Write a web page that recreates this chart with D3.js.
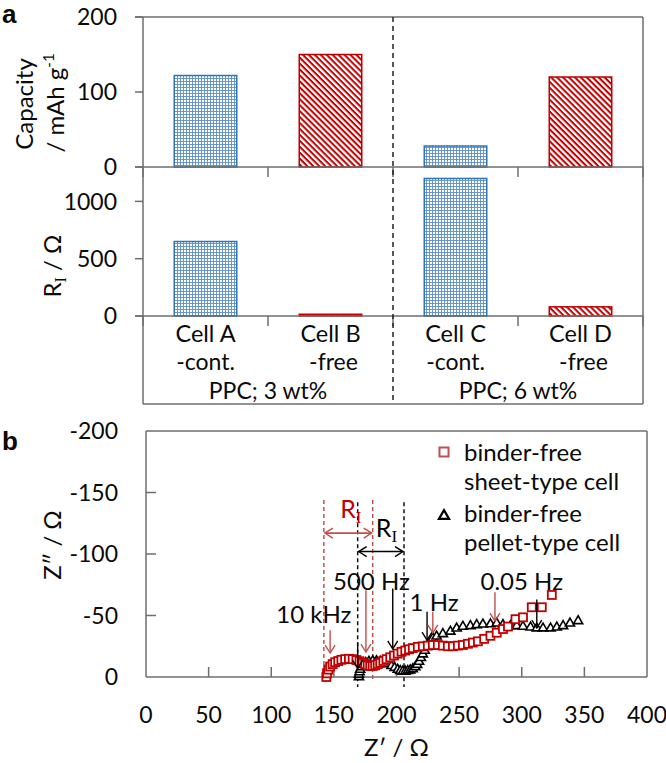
<!DOCTYPE html>
<html><head><meta charset="utf-8">
<script src="https://cdn.jsdelivr.net/npm/d3@7"></script>
<style>
html,body{margin:0;padding:0;background:#fff;}
svg{display:block;}
</style></head>
<body>
<script>
// ---------- DATA ----------
const cells = ["Cell A", "Cell B", "Cell C", "Cell D"];
const cellSub = ["-cont.", "-free", "-cont.", "-free"];
const binderType = ["cont", "free", "cont", "free"];
const groups = ["PPC; 3 wt%", "PPC; 6 wt%"];
const capacity = [122, 150, 28, 120];      // mAh g-1
const resistance = [650, 15, 1200, 80];    // RI / Ohm
const capTicks = [0, 100, 200];
const riTicks = [0, 500, 1000];

// Nyquist: binder-free sheet-type cell (red squares)
const sheetZre = [144,144.5,145.5,147,149,151,153.5,156,159,162,165,168,170.5,173,175,177,179,181,183,185,187,189.5,192,195,198,201,204,207,210,213,217,221,225,229,233,237,241,245,249,253,257,261,265,270,275,280,285,289,295,301,308,316,324];
const sheetZim = [0,-3,-6,-8.5,-10.5,-12,-13,-14,-14.5,-14.8,-14.5,-13.8,-12.8,-11.5,-10.5,-9.5,-9,-9,-9.5,-10.5,-11.5,-13,-14.5,-16,-17.5,-19,-20.5,-21.5,-22.5,-23.5,-24.5,-25,-25.5,-26,-26,-25.5,-25,-25,-25.5,-26,-27,-28,-29,-31,-33.5,-36,-39,-41,-47,-48.5,-56.7,-56.7,-66.7];
// Nyquist: binder-free pellet-type cell (black triangles)
const pelletZre = [170,170,170.5,171,172,173.5,175.5,178,181,184,187,190,193,196,198.5,201,203,205,207,209,211,213,215,216.5,218,219.5,221,222.5,224.5,226.5,229,232,237,243,248,253,259,264,269,275,280,285,291,296,301,307,312,317,323,328,333,338.5,345];
const pelletZim = [0,-2,-4,-6,-8,-10,-11.5,-12.5,-13,-13,-12.5,-11.5,-10.5,-9,-7.5,-6,-5,-4.5,-4.5,-5,-5.5,-6.5,-8,-10,-12.5,-15.5,-18.5,-21.5,-25,-28.5,-31.5,-33,-35,-37,-39.5,-41,-41.5,-42.3,-42.8,-43,-43.6,-42.3,-41.5,-41.5,-41,-40.4,-39.6,-39.6,-39.6,-40.4,-41.5,-43.6,-45.5];
const zreTicks = [0, 50, 100, 150, 200, 250, 300, 350, 400];
const zimTicks = [0, -50, -100, -150, -200];
const legendLabels = [["binder-free", "sheet-type cell"], ["binder-free", "pellet-type cell"]];
const freqLabels = ["10 kHz", "500 Hz", "1 Hz", "0.05 Hz"];

// ---------- SETUP ----------
const W = 666, H = 763;
const RED = "#c00000", RED2 = "#c0504d", BLUE = "#2e75b6", AX = "#6e6e6e";
const FS = 24, FT = 23;
const SERIF = "Liberation Serif, serif";
const svg = d3.select("body").append("svg").attr("width", W).attr("height", H)
  .attr("font-family", "Lato, 'Open Sans', sans-serif").attr("fill", "#0a0a0a");
const defs = svg.append("defs");

// patterns
const pg = defs.append("pattern").attr("id", "grid").attr("patternUnits", "userSpaceOnUse")
  .attr("width", 3).attr("height", 3);
pg.append("rect").attr("width", 3).attr("height", 3).attr("fill", "#fff");
pg.append("path").attr("d", "M0,0.5H3M0.5,0V3").attr("stroke", "#5b8fc8").attr("stroke-width", 0.9);
const ph = defs.append("pattern").attr("id", "hatch").attr("patternUnits", "userSpaceOnUse")
  .attr("width", 4.2).attr("height", 4.2).attr("patternTransform", "rotate(45)");
ph.append("rect").attr("width", 4.2).attr("height", 4.2).attr("fill", "#fff");
ph.append("rect").attr("x", 0).attr("y", 0).attr("width", 4.2).attr("height", 2).attr("fill", RED);

function mk(id, color) {
  const m = defs.append("marker").attr("id", id).attr("viewBox", "-10 -6 12 12")
    .attr("refX", 0).attr("refY", 0).attr("markerWidth", 12).attr("markerHeight", 12)
    .attr("markerUnits", "userSpaceOnUse").attr("orient", "auto-start-reverse");
  m.append("path").attr("d", "M-8,-5L0,0L-8,5").attr("fill", "none").attr("stroke", color).attr("stroke-width", 1.4);
}
mk("arrR", RED2); mk("arrK", "#000");

// ---------- PANEL a ----------
const x = d3.scaleBand().domain(cells).range([143, 643]).paddingInner(0.5).paddingOuter(0.25);
const step = x.step();
const yCap = d3.scaleLinear().domain([0, 200]).range([167, 17]);
const yRI = d3.scaleLinear().domain([0, 1300]).range([316, 167]);
const gA = svg.append("g");

function bars(scale, vals) {
  gA.selectAll(null).data(cells).enter().append("rect")
    .attr("x", d => x(d)).attr("width", x.bandwidth())
    .attr("y", (d, i) => scale(vals[i])).attr("height", (d, i) => scale(0) - scale(vals[i]))
    .attr("fill", (d, i) => binderType[i] === "cont" ? "url(#grid)" : "url(#hatch)")
    .attr("stroke", (d, i) => binderType[i] === "cont" ? BLUE : RED).attr("stroke-width", 1.5);
}
bars(yCap, capacity);
bars(yRI, resistance);

const line = (g, x1, y1, x2, y2, c, w, dash) => g.append("line").attr("x1", x1).attr("y1", y1).attr("x2", x2).attr("y2", y2)
  .attr("stroke", c || AX).attr("stroke-width", w || 1.5).attr("stroke-dasharray", dash || null);

const xL = x.range()[0], xR = x.range()[1];
// frame
line(gA, xL - 8, yCap(200), xR, yCap(200));
line(gA, xL, yCap(200), xL, 404);
line(gA, xR, yCap(200), xR, 404);
line(gA, xL - 8, yCap(0), xR, yCap(0));
line(gA, xL - 8, yRI(0), xR, yRI(0));
line(gA, xL, 404, xR, 404);
// y ticks
capTicks.forEach(t => {
  line(gA, xL - 8, yCap(t), xL, yCap(t));
  gA.append("text").attr("x", 117).attr("y", yCap(t)).attr("dy", "0.36em")
    .attr("text-anchor", "end").attr("font-size", FT).text(t);
});
riTicks.forEach(t => {
  line(gA, xL - 8, yRI(t), xL, yRI(t));
  gA.append("text").attr("x", 117).attr("y", yRI(t)).attr("dy", "0.36em")
    .attr("text-anchor", "end").attr("font-size", FT).text(t);
});
// category ticks
d3.range(5).forEach(k => {
  const xx = xL + k * step;
  line(gA, xx, yCap(0), xx, yCap(0) + 10);
  line(gA, xx, yRI(0), xx, yRI(0) + 10);
});
// separator dashed line
line(gA, xL + 2 * step, yCap(200), xL + 2 * step, 404, "#222", 1.5, "5,4");
// category labels
cells.forEach((c, i) => {
  const cx = x(c) + x.bandwidth() / 2;
  gA.append("text").attr("x", cx).attr("y", 342).attr("text-anchor", "middle").attr("font-size", 23.5).text(c);
  gA.append("text").attr("x", cx + (binderType[i] === "free" ? 3 : 0)).attr("y", 370).attr("text-anchor", "middle").attr("font-size", 23).text(cellSub[i]);
});
groups.forEach((g, j) => {
  gA.append("text").attr("x", xL + (2 * j + 1) * step).attr("y", 399).attr("text-anchor", "middle").attr("font-size", 23).text(g);
});
// axis titles
const t1 = gA.append("text").attr("transform", "translate(33,104) rotate(-90)").attr("text-anchor", "middle").attr("font-size", FS);
t1.text("Capacity");
const t2 = gA.append("text").attr("transform", "translate(64,103) rotate(-90)").attr("text-anchor", "middle").attr("font-size", FS);
t2.append("tspan").text("/ mAh g");
t2.append("tspan").attr("font-size", 15).attr("dy", -10).text("-1");
const t3 = gA.append("text").attr("transform", "translate(61,266) rotate(-90)").attr("text-anchor", "middle").attr("font-size", FS);
t3.append("tspan").text("R");
t3.append("tspan").attr("font-size", 16).attr("dy", 5).attr("font-family", SERIF).text("I");
t3.append("tspan").attr("dy", -5).text(" / Ω");
gA.append("text").attr("x", 2).attr("y", 23).attr("font-size", 26).attr("font-weight", "bold")
  .attr("font-family", "Liberation Sans, Arial").text("a");

// ---------- PANEL b ----------
const xz = d3.scaleLinear().domain([0, 400]).range([146, 647]);
const yz = d3.scaleLinear().domain([0, -200]).range([677, 431]);
const gB = svg.append("g");
line(gB, xz(0), yz(-200), xz(400), yz(-200));
line(gB, xz(0), yz(-200), xz(0), yz(0));
line(gB, xz(400), yz(-200), xz(400), yz(0));
line(gB, xz(0), yz(0), xz(400), yz(0));
zreTicks.forEach(t => {
  if (t > 0 && t < 400) line(gB, xz(t), yz(0), xz(t), yz(0) - 10);
  gB.append("text").attr("x", xz(t)).attr("y", 723).attr("text-anchor", "middle").attr("font-size", FT).text(t);
});
zimTicks.forEach(t => {
  if (t < 0 && t > -200) line(gB, xz(0), yz(t), xz(0) + 10, yz(t));
  gB.append("text").attr("x", 118).attr("y", yz(t)).attr("dy", "0.36em").attr("text-anchor", "end").attr("font-size", FT).text(t);
});
gB.append("text").attr("x", (xz(0) + xz(400)) / 2).attr("y", 756).attr("text-anchor", "middle").attr("font-size", FS).text("Z′ / Ω");
gB.append("text").attr("transform", "translate(61,545) rotate(-90)").attr("text-anchor", "middle").attr("font-size", FS).text("Z″ / Ω");
gB.append("text").attr("x", 2).attr("y", 450).attr("font-size", 26).attr("font-weight", "bold")
  .attr("font-family", "Liberation Sans, Arial").text("b");

// dashed R_I guide lines
[142, 181].forEach(v => line(gB, xz(v), yz(-144), xz(v), yz(0) + 2, RED2, 1.5, "4,3"));
[169, 206].forEach(v => line(gB, xz(v), yz(-142), xz(v), yz(0) + 10, "#111", 1.5, "4,3"));
// R_I double arrows
line(gB, xz(142) + 1, yz(-117), xz(181) - 1, yz(-117), RED2, 1.6).attr("marker-start", "url(#arrR)").attr("marker-end", "url(#arrR)");
line(gB, xz(169) + 1, yz(-102), xz(206) - 1, yz(-102), "#000", 1.6).attr("marker-start", "url(#arrK)").attr("marker-end", "url(#arrK)");
function rLabel(xv, yv, col) {
  const t = gB.append("text").attr("x", xz(xv)).attr("y", yz(yv)).attr("font-size", 25).attr("fill", col);
  t.append("tspan").text("R");
  t.append("tspan").attr("font-size", 17).attr("dy", 5).attr("font-family", SERIF).text("I");
}
rLabel(155, -129, RED);
rLabel(183.5, -114, "#000");

// scatter data
const sheet = sheetZre.map((v, i) => [v, sheetZim[i]]);
const pellet = pelletZre.map((v, i) => [v, pelletZim[i]]);
const tri = d3.symbol().type(d3.symbolTriangle).size(36);
gB.selectAll(null).data(pellet).enter().append("path")
  .attr("d", tri).attr("transform", d => `translate(${xz(d[0])},${yz(d[1])})`)
  .attr("fill", "#fff").attr("stroke", "#000").attr("stroke-width", 1.6);
gB.selectAll(null).data(sheet).enter().append("rect")
  .attr("x", d => xz(d[0]) - 4).attr("y", d => yz(d[1]) - 4).attr("width", 8).attr("height", 8)
  .attr("fill", "#fff").attr("stroke", RED).attr("stroke-width", 1.8);

// frequency labels and arrows
const fx = [134, 180, 230, 300], fy = [-44, -71, -54, -71];
freqLabels.forEach((f, i) => gB.append("text").attr("x", xz(fx[i])).attr("y", yz(fy[i])).attr("text-anchor", "middle").attr("font-size", FS).text(f));
const arrows = [
  [147, -38, -19.5, RED2, "arrR"], [169, -28, -7, "#000", "arrK"],
  [175.6, -70.5, -20.3, RED2, "arrR"], [197, -72, -22.8, "#000", "arrK"],
  [224.4, -53, -30, "#000", "arrK"], [229, -53, -35.8, RED2, "arrR"],
  [278.6, -69, -45.5, RED2, "arrR"], [312, -63, -39.8, "#000", "arrK"]
];
arrows.forEach(([v, y1, y2, c, m]) => line(gB, xz(v), yz(y1), xz(v), yz(y2), c, 1.4).attr("marker-end", `url(#${m})`));

// legend
const lg = gB.append("g");
lg.append("rect").attr("x", 439.5).attr("y", 447.5).attr("width", 9).attr("height", 9).attr("fill", "#fff").attr("stroke", RED2).attr("stroke-width", 2);
lg.append("path").attr("d", d3.symbol().type(d3.symbolTriangle).size(45)).attr("transform", "translate(444,516)")
  .attr("fill", "#fff").attr("stroke", "#000").attr("stroke-width", 2.2);
legendLabels.forEach((ls, j) => ls.forEach((s, k) => lg.append("text").attr("x", 464).attr("y", 461 + j * 61 + k * 29).attr("font-size", FS).text(s)));
</script>
</body></html>
